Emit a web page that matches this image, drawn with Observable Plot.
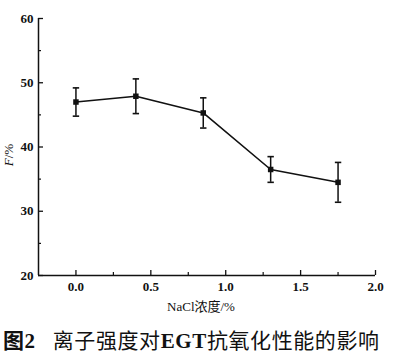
<!DOCTYPE html>
<html><head><meta charset="utf-8">
<script src="https://cdn.jsdelivr.net/npm/d3@7"></script>
<script src="https://cdn.jsdelivr.net/npm/@observablehq/plot@0.6"></script>
<style>
body{margin:0;background:#fff;width:400px;}
#chart svg{display:block;}
#cap{height:38px;line-height:38px;padding-left:3px;font-family:"Noto Sans CJK SC",sans-serif;font-size:21px;color:#111;white-space:nowrap;letter-spacing:0.6px;}
#cap .b{font-weight:bold;}
#cap .s{font-family:"Liberation Serif",serif;font-weight:bold;}
</style></head><body>
<div id="chart"></div>
<div id="cap"><span class="b">图<span class="s">2</span></span><span style="display:inline-block;width:17px"></span>离子强度对<span class="s">EGT</span>抗氧化性能的影响</div>
<script>
const nacl = [0, 0.4, 0.85, 1.3, 1.75];
const fVal = [47.0, 47.9, 45.3, 36.5, 34.5];
const fErr = [2.2, 2.7, 2.35, 2.0, 3.1];
const xTicks = [0, 0.5, 1.0, 1.5, 2.0];
const xMinor = [0.25, 0.75, 1.25, 1.75];
const yTicks = [20, 30, 40, 50, 60];
const yMinor = [25, 35, 45, 55];
const xLabel = "NaCl浓度/%";

const data = nacl.map((x, i) => ({x, y: fVal[i], lo: fVal[i] - fErr[i], hi: fVal[i] + fErr[i]}));

const W = 400, H = 320, mT = 18, mB = 45, mL = 38, mR = 25;
const ph = H - mT - mB, pw = W - mL - mR;
const capSym = {draw(ctx, size){ const r = 3.2; ctx.moveTo(-r, 0); ctx.lineTo(r, 0); }};

const chart = Plot.plot({
  width: W, height: H, marginTop: mT, marginBottom: mB, marginLeft: mL, marginRight: mR,
  style: {fontFamily: "Liberation Serif, serif", fontSize: "13px", fontWeight: "bold", color: "#111", background: "#fff"},
  x: {domain: [-0.25, 2.0]},
  y: {domain: [20, 60]},
  marks: [
    Plot.axisX({ticks: xTicks, tickSize: 0, tickPadding: 6, tickFormat: d3.format(".1f"), label: null}),
    Plot.axisY({ticks: yTicks, tickSize: 0, tickPadding: 5, tickFormat: d => d, label: null}),
    Plot.tickX(xTicks, {x: d => d, insetTop: ph - 5, stroke: "#111", strokeWidth: 1.3}),
    Plot.tickX(xMinor, {x: d => d, insetTop: ph - 3, stroke: "#111", strokeWidth: 1.2}),
    Plot.tickY(yTicks, {y: d => d, insetRight: pw - 5, stroke: "#111", strokeWidth: 1.3}),
    Plot.tickY(yMinor, {y: d => d, insetRight: pw - 3, stroke: "#111", strokeWidth: 1.2}),
    Plot.ruleY([20], {stroke: "#111", strokeWidth: 1.5}),
    Plot.ruleX([-0.25], {stroke: "#111", strokeWidth: 1.5}),
    Plot.ruleX(data, {x: "x", y1: "lo", y2: "hi", stroke: "#111", strokeWidth: 1.5}),
    Plot.dot(data, {x: "x", y: "hi", symbol: capSym, stroke: "#111", strokeWidth: 1.6, fill: "none", r: 3}),
    Plot.dot(data, {x: "x", y: "lo", symbol: capSym, stroke: "#111", strokeWidth: 1.6, fill: "none", r: 3}),
    Plot.line(data, {x: "x", y: "y", stroke: "#111", strokeWidth: 1.6}),
    Plot.dot(data, {x: "x", y: "y", symbol: "square", fill: "#111", stroke: "none", r: 3.1}),
    Plot.text([xLabel], {frameAnchor: "bottom", lineAnchor: "middle", dy: 31, dx: -6, fontWeight: "normal", fontSize: 13, fill: "#111", fontFamily: "Liberation Serif, Noto Sans CJK SC, serif"})
  ]
});
document.getElementById("chart").appendChild(chart);
const svg = d3.select(chart);
const yl = svg.append("text")
  .attr("transform", "translate(13,155) rotate(-90)")
  .attr("text-anchor", "middle")
  .attr("font-family", "Liberation Serif, serif")
  .attr("font-size", 13)
  .attr("font-weight", "normal")
  .attr("fill", "#111");
yl.append("tspan").attr("font-style", "italic").text("F");
yl.append("tspan").text("/%");
</script>
</body></html>
